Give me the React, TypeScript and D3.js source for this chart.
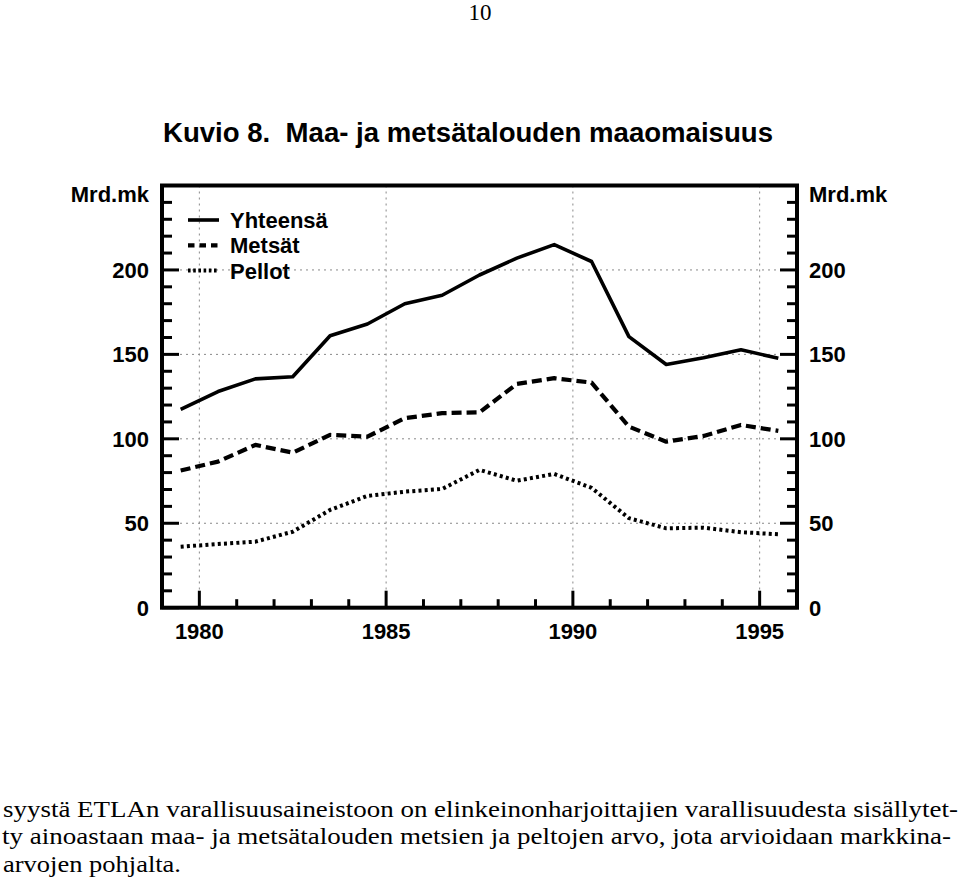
import React from "react";
import * as d3 from "d3";

const years = [1979.5, 1980.5, 1981.5, 1982.5, 1983.5, 1984.5, 1985.5, 1986.5, 1987.5, 1988.5, 1989.5, 1990.5, 1991.5, 1992.5, 1993.5, 1994.5, 1995.5];
const yhteensa = [117.5, 128, 135.5, 136.8, 161, 168, 180, 185, 197, 207, 215, 205, 160.5, 144, 148, 152.7, 147.7];
const metsat = [81.2, 86.5, 96.4, 91.8, 102.3, 101.3, 112.2, 115.2, 115.7, 132.5, 135.9, 133.3, 107.2, 98.3, 101.7, 108.2, 104.7];
const pellot = [36.1, 37.7, 39.1, 45, 57.9, 66.2, 68.7, 70.3, 81.6, 75.2, 79.2, 71, 53, 47, 47.4, 44.7, 43.5];
const xTickLabels = [1980, 1985, 1990, 1995];
const yTickLabels = [0, 50, 100, 150, 200];
const legendLabels = ["Yhteensä", "Metsät", "Pellot"];
const titleText = "Kuvio 8.  Maa- ja metsätalouden maaomaisuus";
const unitLabel = "Mrd.mk";
const pageNumber = "10";
const bodyLines = [
  "syystä ETLAn varallisuusaineistoon on elinkeinonharjoittajien varallisuudesta sisällytet-",
  "ty ainoastaan maa- ja metsätalouden metsien ja peltojen arvo, jota arvioidaan markkina-",
  "arvojen pohjalta.",
];

const SANS = "'Liberation Sans', Arial, Helvetica, sans-serif";
const SERIF = "'Liberation Serif', 'Times New Roman', serif";

export default function App() {
  const left = 162, right = 797, top = 185.5, bottom = 607.7;
  const x = d3.scaleLinear().domain([1979, 1996]).range([left, right]);
  const y = d3.scaleLinear().domain([0, 250]).range([bottom, top]);

  const line = d3
    .line<number>()
    .x((_, i) => x(years[i]))
    .y((v) => y(v));

  const series = [
    { data: yhteensa, dash: undefined as string | undefined, width: 3.6 },
    { data: metsat, dash: "10,5", width: 4.2 },
    { data: pellot, dash: "3,3.2", width: 4 },
  ];

  const minorY = d3.range(10, 250, 10).filter((v) => v % 50 !== 0);
  const minorX = d3.range(1980, 1996, 1).filter((v) => v % 5 !== 0);

  return (
    <svg
      width={960}
      height={891}
      viewBox="0 0 960 891"
      style={{ position: "absolute", left: 0, top: 0, display: "block", background: "#fff" }}
    >
      <rect x={0} y={0} width={960} height={891} fill="#fff" />
      <text x={480} y={20} textAnchor="middle" fontFamily={SERIF} fontSize={23} fill="#000">
        {pageNumber}
      </text>
      <text
        x={163}
        y={141.7}
        fontFamily={SANS}
        fontWeight="bold"
        fontSize={27}
        textLength={610}
        lengthAdjust="spacingAndGlyphs"
        fill="#000"
        style={{ whiteSpace: "pre" }}
      >
        {titleText}
      </text>

      {/* grid */}
      <g stroke="#888" strokeWidth={1} strokeDasharray="2,4">
        {xTickLabels.map((t) => (
          <line key={"gx" + t} x1={x(t)} x2={x(t)} y1={top} y2={bottom} />
        ))}
        {yTickLabels
          .filter((t) => t > 0)
          .map((t) => (
            <line key={"gy" + t} x1={left} x2={right} y1={y(t)} y2={y(t)} />
          ))}
      </g>

      {/* series */}
      {series.map((s, i) => (
        <path
          key={"s" + i}
          d={line(s.data) || ""}
          fill="none"
          stroke="#000"
          strokeWidth={s.width}
          strokeDasharray={s.dash}
          strokeLinejoin="round"
        />
      ))}

      {/* ticks */}
      <g stroke="#000" strokeWidth={3}>
        {minorY.map((v) => (
          <g key={"my" + v}>
            <line x1={left} x2={left + 10} y1={y(v)} y2={y(v)} />
            <line x1={right} x2={right - 10} y1={y(v)} y2={y(v)} />
          </g>
        ))}
        {yTickLabels.map((v) => (
          <g key={"My" + v}>
            <line x1={left} x2={left + 17} y1={y(v)} y2={y(v)} />
            <line x1={right} x2={right - 17} y1={y(v)} y2={y(v)} />
          </g>
        ))}
        {minorX.map((v) => (
          <line key={"mx" + v} x1={x(v)} x2={x(v)} y1={bottom} y2={bottom - 8.5} />
        ))}
        {xTickLabels.map((v) => (
          <line key={"Mx" + v} x1={x(v)} x2={x(v)} y1={bottom} y2={bottom - 17} />
        ))}
      </g>

      {/* frame */}
      <rect x={left} y={top} width={right - left} height={bottom - top} fill="none" stroke="#000" strokeWidth={4} />

      {/* axis labels */}
      <g fontFamily={SANS} fontWeight="bold" fontSize={22} fill="#000">
        {yTickLabels.map((v) => (
          <text key={"ly" + v} x={149} y={y(v) + 8} textAnchor="end">
            {v}
          </text>
        ))}
        {yTickLabels.map((v) => (
          <text key={"ry" + v} x={809} y={y(v) + 8} textAnchor="start">
            {v}
          </text>
        ))}
        {xTickLabels.map((v) => (
          <text key={"lx" + v} x={x(v)} y={638.5} textAnchor="middle">
            {v}
          </text>
        ))}
        <text x={149} y={201.7} textAnchor="end">
          {unitLabel}
        </text>
        <text x={809} y={202.3} textAnchor="start">
          {unitLabel}
        </text>
      </g>

      {/* legend */}
      <g>
        {legendLabels.map((l, i) => {
          const ly = 220 + i * 25.3;
          return (
            <g key={"lg" + i}>
              <line
                x1={188}
                x2={219}
                y1={ly}
                y2={ly}
                stroke="#000"
                strokeWidth={series[i].width}
                strokeDasharray={i === 1 ? "6.5,5" : i === 2 ? "2.6,2.6" : undefined}
              />
              <text x={230} y={ly + 8} fontFamily={SANS} fontWeight="bold" fontSize={22} fill="#000">
                {l}
              </text>
            </g>
          );
        })}
      </g>

      {/* body text */}
      <g fontFamily={SERIF} fontSize={23} fill="#000">
        <text x={3} y={816.7} textLength={955} lengthAdjust="spacingAndGlyphs">
          {bodyLines[0]}
        </text>
        <text x={2} y={844.2} textLength={949} lengthAdjust="spacingAndGlyphs">
          {bodyLines[1]}
        </text>
        <text x={3} y={871.5} textLength={178} lengthAdjust="spacingAndGlyphs">
          {bodyLines[2]}
        </text>
      </g>
    </svg>
  );
}
